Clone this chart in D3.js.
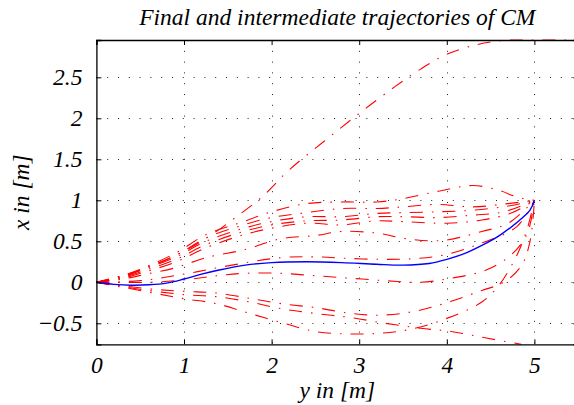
<!DOCTYPE html>
<html>
<head>
<meta charset="utf-8">
<script src="https://cdn.jsdelivr.net/npm/d3@7"></script>
<style>
body { margin: 0; background: #fff; }
text { font-family: "Liberation Serif", "DejaVu Serif", serif; font-style: italic; }
</style>
</head>
<body>
<div id="graph"></div>
<script>
// values, each point is [y, x] in metres
var finalTraj = [[0,0],[0.2,-0.025],[0.4,-0.035],[0.6,-0.03],[0.8,-0.01],[1.0,0.04],
	[1.2,0.1],[1.4,0.15],[1.7,0.21],[2.0,0.24],[2.4,0.25],[2.8,0.24],[3.2,0.22],
	[3.5,0.21],[3.8,0.23],[4.0,0.28],[4.2,0.35],[4.4,0.45],[4.6,0.57],[4.8,0.73],
	[4.95,0.88],[5.0,1.0]];

var firstGuess = [[0,0],[0.5,0.15],[1.0,0.38],[1.3,0.57],[1.6,0.8],[1.9,1.05],[2.2,1.37],
	[2.6,1.72],[3.0,2.06],[3.4,2.38],[3.7,2.6],[4.0,2.78],[4.35,2.9],[4.65,2.95],
	[5.0,2.955],[5.5,2.955]];

var iterUp1 = [[0,0],[0.3,0.08],[0.57,0.19],[0.91,0.36],[1.25,0.58],[1.65,0.73],[2.0,0.86],
	[2.4,0.96],[2.8,0.98],[3.2,0.98],[3.5,1.02],[3.9,1.11],[4.3,1.18],[4.6,1.12],
	[4.8,1.04],[5.0,1.0]];
var iterUp2 = [[0,0],[0.3,0.07],[0.57,0.18],[0.91,0.33],[1.25,0.54],[1.65,0.69],[2.0,0.79],
	[2.4,0.85],[2.8,0.9],[3.2,0.9],[3.5,0.92],[3.9,0.95],[4.3,0.92],[4.7,0.96],[5.0,1.0]];
var iterUp3 = [[0,0],[0.3,0.07],[0.57,0.17],[0.91,0.31],[1.25,0.5],[1.65,0.65],[2.0,0.74],
	[2.4,0.8],[2.8,0.8],[3.2,0.84],[3.5,0.85],[3.9,0.86],[4.3,0.88],[4.7,0.93],[5.0,1.0]];
var iterUp4 = [[0,0],[0.3,0.06],[0.57,0.15],[0.91,0.28],[1.25,0.46],[1.65,0.61],[2.0,0.7],
	[2.4,0.75],[2.8,0.76],[3.2,0.8],[3.5,0.8],[3.9,0.79],[4.3,0.82],[4.65,0.86],[5.0,1.0]];
var iterUp5 = [[0,0],[0.3,0.05],[0.57,0.13],[0.91,0.25],[1.25,0.42],[1.65,0.57],[2.0,0.66],
	[2.4,0.72],[2.8,0.7],[3.2,0.75],[3.5,0.74],[4.0,0.72],[4.4,0.76],[4.75,0.85],[5.0,1.0]];
var iterMid1 = [[0,0],[0.3,0.04],[0.57,0.1],[0.91,0.18],[1.25,0.3],[1.7,0.4],[2.1,0.53],
	[2.5,0.57],[2.8,0.62],[3.2,0.6],[3.55,0.53],[3.95,0.51],[4.4,0.62],[4.7,0.72],[5.0,1.0]];
var iterMid2 = [[0,0],[0.5,0.02],[1.0,0.1],[1.5,0.2],[2.1,0.3],[2.5,0.31],[2.9,0.29],
	[3.3,0.28],[3.65,0.29],[4.0,0.34],[4.4,0.48],[4.8,0.68],[5.0,1.0]];
var iterZero = [[0,0],[0.6,0.0],[1.0,0.03],[1.37,0.08],[1.7,0.11],[2.1,0.11],[2.5,0.08],
	[2.9,0.05],[3.3,0.02],[3.7,0.0],[4.05,0.05],[4.45,0.15],[4.75,0.35],[4.92,0.6],[5.0,1.0]];
var iterLow1 = [[0,0],[0.6,-0.08],[1.0,-0.11],[1.37,-0.13],[1.75,-0.195],[2.11,-0.26],
	[2.51,-0.31],[2.91,-0.38],[3.26,-0.4],[3.65,-0.35],[4.05,-0.23],[4.4,-0.1],
	[4.65,0.0],[4.85,0.2],[4.95,0.5],[5.0,1.0]];
var iterLow2 = [[0,0],[0.6,-0.1],[1.0,-0.15],[1.37,-0.175],[1.75,-0.24],[2.1,-0.32],
	[2.5,-0.38],[2.9,-0.43],[3.3,-0.5],[3.7,-0.56],[4.05,-0.6],[4.45,-0.68],[4.85,-0.756]];
var iterLow3 = [[0,0],[0.6,-0.12],[1.0,-0.2],[1.37,-0.26],[1.75,-0.38],[2.11,-0.49],
	[2.5,-0.6],[2.9,-0.63],[3.25,-0.62],[3.6,-0.57],[4.0,-0.44],[4.4,-0.24],[4.6,-0.03],
	[4.8,0.33],[4.92,0.66],[5.0,1.0]];

var iterations = [firstGuess, iterUp1, iterUp2, iterUp3, iterUp4, iterUp5, iterMid1,
	iterMid2, iterZero, iterLow1, iterLow2, iterLow3];

var xTicks = [0, 1, 2, 3, 4, 5];
var yTicks = [-0.5, 0, 0.5, 1, 1.5, 2, 2.5];
var xLimits = [0, 5.5];

var width = 574, height = 405;
var plotLeft = 96.4, plotRight = 578.2, plotTop = 40, plotBottom = 344.3;
var fontSize = 23.5;

var allPoints = d3.merge(iterations.concat([finalTraj]));
var yExtent = d3.extent(allPoints, function (d) { return d[1]; });

var xScale = d3.scaleLinear().domain(xLimits).range([plotLeft, plotRight]);
var yScale = d3.scaleLinear().domain(yExtent).range([plotBottom, plotTop]);

var svg = d3.select("#graph").append("svg")
	.attr("width", width)
	.attr("height", height);

// dotted grid
var grid = svg.append("g")
	.attr("stroke", "#222")
	.attr("stroke-width", 1)
	.attr("stroke-dasharray", "1,9.8");
grid.selectAll("line.gx").data(xTicks.slice(1)).enter().append("line")
	.attr("x1", function (d) { return Math.round(xScale(d)) + 0.5; })
	.attr("x2", function (d) { return Math.round(xScale(d)) + 0.5; })
	.attr("y1", plotTop).attr("y2", plotBottom);
grid.selectAll("line.gy").data(yTicks).enter().append("line")
	.attr("y1", function (d) { return Math.round(yScale(d)) + 0.5; })
	.attr("y2", function (d) { return Math.round(yScale(d)) + 0.5; })
	.attr("x1", plotLeft).attr("x2", plotRight);

var line = d3.line()
	.x(function (d) { return xScale(d[0]); })
	.y(function (d) { return yScale(d[1]); })
	.curve(d3.curveCatmullRom.alpha(0.5));

var plot = svg.append("g");
plot.selectAll("path.iter").data(iterations).enter().append("path")
	.attr("fill", "none")
	.attr("stroke", "#ff0000")
	.attr("stroke-width", 1.1)
	.attr("stroke-dasharray", "13,9,1.5,9")
	.attr("d", line);

plot.append("path")
	.datum(finalTraj)
	.attr("fill", "none")
	.attr("stroke", "#0000ff")
	.attr("stroke-width", 1.4)
	.attr("d", line);

// axes: MATLAB style box with inward ticks
var axisBottom = d3.axisBottom(xScale).tickValues(xTicks).tickSize(-5).tickPadding(12)
	.tickFormat(d3.format("d"));
var axisTop = d3.axisTop(xScale).tickValues(xTicks).tickSize(-5).tickFormat("");
var axisLeft = d3.axisLeft(yScale).tickValues(yTicks).tickSize(-5).tickPadding(14)
	.tickFormat(function (d) { return d3.format("")(d).replace("-", "\u2212"); });
var axisRight = d3.axisRight(yScale).tickValues(yTicks).tickSize(-5).tickFormat("");

function styleAxis(g) {
	g.select(".domain").attr("stroke", "#000").attr("stroke-width", 1.3);
	g.selectAll(".tick line").attr("stroke", "#000");
	g.selectAll("text").attr("fill", "#000").attr("font-size", fontSize)
		.attr("font-family", "Liberation Serif").attr("font-style", "italic");
}

svg.append("g").attr("transform", "translate(0," + plotBottom + ")").call(axisBottom)
	.call(styleAxis);
svg.append("g").attr("transform", "translate(0," + plotTop + ")").call(axisTop)
	.call(styleAxis);
svg.append("g").attr("transform", "translate(" + plotLeft + ",0)").call(axisLeft)
	.call(styleAxis);
svg.append("g").attr("transform", "translate(" + plotRight + ",0)").call(axisRight)
	.call(styleAxis);

svg.append("text")
	.attr("x", (plotLeft + plotRight) / 2)
	.attr("y", 25)
	.attr("text-anchor", "middle")
	.attr("font-size", fontSize)
	.text("Final and intermediate trajectories of CM");

svg.append("text")
	.attr("x", (plotLeft + plotRight) / 2)
	.attr("y", 398)
	.attr("text-anchor", "middle")
	.attr("font-size", fontSize)
	.text("y in [m]");

svg.append("text")
	.attr("transform", "translate(29," + (plotTop + plotBottom) / 2 + ") rotate(-90)")
	.attr("text-anchor", "middle")
	.attr("font-size", fontSize)
	.text("x in [m]");
</script>
</body>
</html>
